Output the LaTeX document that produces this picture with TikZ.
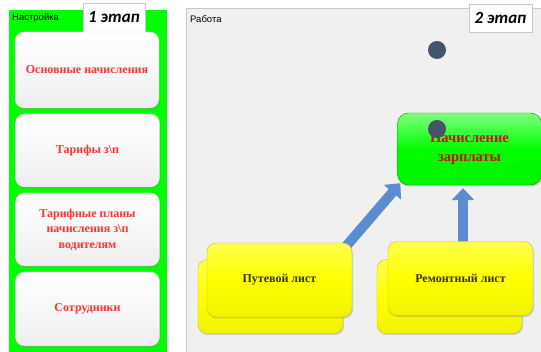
\documentclass[tikz,border=0pt]{standalone}
\usepackage{fontspec}
\setmainfont{Liberation Serif}
\newfontfamily\uisans{Liberation Sans}
\newfontfamily\stagefont{Carlito}
\usetikzlibrary{arrows.meta,shadows,calc}
\definecolor{panelgreen}{HTML}{00FF00}
\definecolor{panelgray}{HTML}{F0F0F0}
\definecolor{bordergray}{HTML}{C8C8C8}
\definecolor{btnred}{HTML}{FF3333}
\definecolor{dotcol}{HTML}{44546A}
\definecolor{arrowblue}{HTML}{5B8BD0}
\definecolor{nachred}{HTML}{CC1010}
\definecolor{olive}{HTML}{333300}
\pgfdeclarelayer{bg}
\pgfdeclarelayer{mid}
\pgfsetlayers{bg,mid,main}
\tikzset{
  btn/.style={rounded corners=9pt, minimum width=144pt, draw=gray!35, line width=0.4pt,
    top color=white, bottom color=gray!14, middle color=gray!6,
    drop shadow={shadow xshift=1pt, shadow yshift=-1.5pt, opacity=0.35},
    font=\bfseries\fontsize{12}{15.5}\selectfont, text=btnred, align=center, inner sep=2pt},
  ybox/.style={rounded corners=9pt, minimum width=145pt, minimum height=74pt, draw=yellow!75!black, line width=0.4pt,
    top color=yellow!70!white, bottom color=yellow!95!black, middle color=yellow,
    drop shadow={shadow xshift=1pt, shadow yshift=-1.5pt, opacity=0.3},
    font=\bfseries\fontsize{12}{13}\selectfont, text=olive},
  gbox/.style={rounded corners=11pt, minimum width=144pt, minimum height=72pt, draw=green!60!black, line width=0.4pt,
    top color=green!50!white, bottom color=green!95!black, middle color=panelgreen,
    drop shadow={shadow xshift=1pt, shadow yshift=-1.5pt, opacity=0.35},
    font=\bfseries\fontsize{14.5}{19}\selectfont, text=nachred, align=center},
  stage/.style={draw=bordergray, fill=white, line width=0.5pt, inner sep=0pt,
    font=\stagefont\bfseries\itshape\fontsize{17}{17}\selectfont},
  paneltitle/.style={anchor=west, inner sep=0pt, font=\uisans\fontsize{9.5}{10}\selectfont},
  dot/.style={circle, fill=dotcol, minimum size=18pt, inner sep=0pt},
  bigarrow/.style={draw=arrowblue, line width=10pt, -{Triangle[length=12pt,width=22pt]}, arrowblue}
}
\begin{document}
\begin{tikzpicture}[x=1pt,y=-1pt]
\useasboundingbox (0,0) rectangle (541,352);
\begin{pgfonlayer}{bg}
\fill[white] (0,0) rectangle (541,352);
\fill[panelgreen] (9,10) rectangle (167,356);
\filldraw[fill=panelgray, draw=bordergray, line width=0.6pt] (186,8) rectangle (548,360);
\end{pgfonlayer}
% left panel
\node[paneltitle] (nastr) at (12,18) {Настройка};
\node[stage, minimum width=62pt, minimum height=29pt] (st1) at (114,17.5) {1 этап};
\node[btn, minimum height=76pt] (b1) at (87,70) {Основные начисления};
\node[btn, minimum height=73pt] (b2) at (87.5,150.5) {Тарифы з\textbackslash п};
\node[btn, minimum height=73pt] (b3) at (87.5,229.5) {Тарифные планы\\начисления з\textbackslash п\\водителям};
\node[btn, minimum height=74pt] (b4) at (87.5,309) {Сотрудники};
% right panel
\node[paneltitle] (rab) at (190,19) {Работа};
\node[stage, minimum width=63pt, minimum height=28pt] (st2) at (500.5,18) {2 этап};
% yellow stacks
\node[ybox] (putb) at (270.5,296.5) {};
\node[ybox] (put) at (279.5,280) {Путевой лист};
\node[ybox] (remb) at (449.5,296.5) {};
\node[ybox] (rem) at (460.5,278.5) {Ремонтный лист};
% green target
\node[gbox] (nach) at (469.5,149) {Начисление\\зарплаты};
% arrows
\begin{pgfonlayer}{mid}
\draw[bigarrow] ($(put.north east)+(-10,8)$) -- ($(nach.south west)+(3,-2)$);
\draw[bigarrow] ($(rem.north)+(2.5,8)$) -- ($(rem.north |- nach.south)+(2.5,3)$);
\end{pgfonlayer}
% dots
\node[dot] (dot1) at (437,50) {};
\node[dot] (dot2) at (437,129) {};
\end{tikzpicture}
\end{document}
